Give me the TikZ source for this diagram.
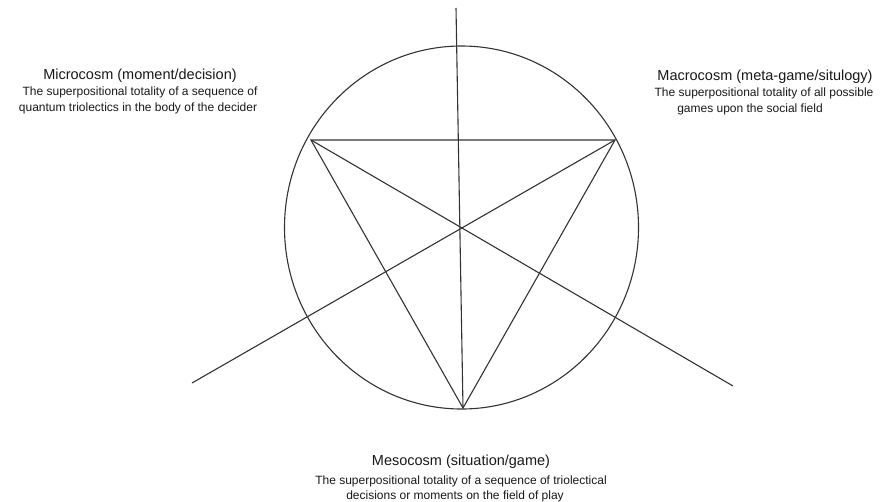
\documentclass[tikz,border=0pt]{standalone}
\usepackage{fontspec}
\setmainfont{Liberation Sans}
\begin{document}
\begin{tikzpicture}[x=1pt,y=-1pt,
  ln/.style={draw=black!80,line width=1.1pt},
  ttl/.style={anchor=base,inner sep=0pt,font=\fontsize{14.5}{16}\selectfont,text=black!90},
  bdy/.style={anchor=base,inner sep=0pt,font=\fontsize{12}{14}\selectfont,text=black!90}]
\useasboundingbox[fill=white] (0,0) rectangle (888,501);
% geometry
\coordinate (C) at (461.5,227.5);
\coordinate (TL) at (311,140);
\coordinate (TR) at (615,140);
\coordinate (B) at (463,408);
\coordinate (TOP) at (456,8);
\coordinate (LE) at (192,383);
\coordinate (RE) at (733,386);
\draw[ln] (C) ellipse [x radius=177, y radius=181.5];
\draw[ln] (TL) -- (TR) -- (B) -- cycle;
\draw[ln] (TOP) -- (B);
\draw[ln] (LE) -- (TR);
\draw[ln] (TL) -- (RE);
% texts
\node[ttl] (mit) at (140,79) {Microcosm (moment/decision)};
\node[bdy] (mi1) at (140,95) {The superpositional totality of a sequence of};
\node[bdy] (mi2) at (138,111) {quantum triolectics in the body of the decider};
\node[ttl] (mat) at (765,80) {Macrocosm (meta-game/situlogy)};
\node[bdy] (ma1) at (764,96) {The superpositional totality of all possible};
\node[bdy] (ma2) at (750,112) {games upon the social field};
\node[ttl] (met) at (461,465) {Mesocosm (situation/game)};
\node[bdy] (me1) at (461,484) {The superpositional totality of a sequence of triolectical};
\node[bdy] (me2) at (455,499) {decisions or moments on the field of play};
\end{tikzpicture}
\end{document}
